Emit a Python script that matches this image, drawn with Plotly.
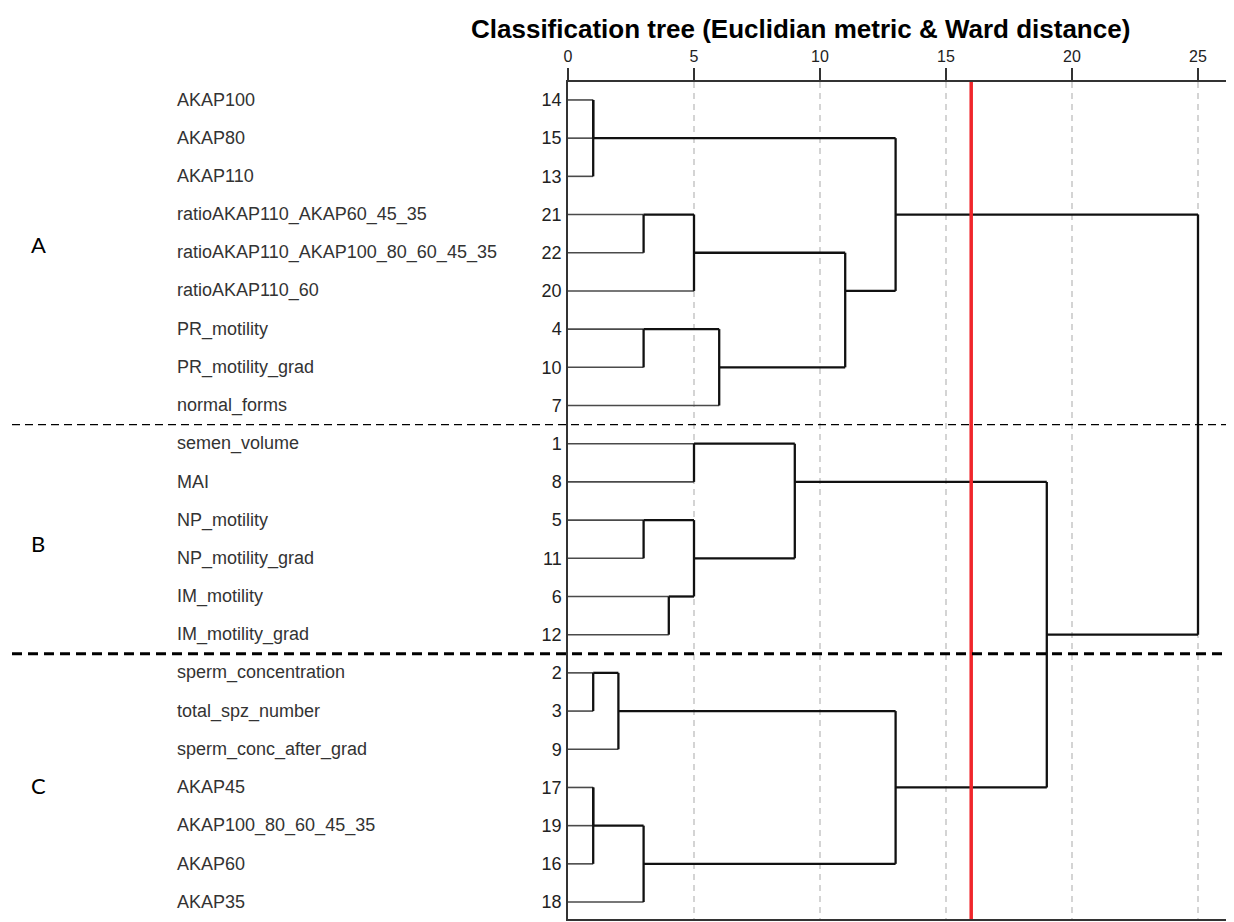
import plotly.graph_objects as go

# leaves, top to bottom
leaf_names = ["AKAP100", "AKAP80", "AKAP110", "ratioAKAP110_AKAP60_45_35",
              "ratioAKAP110_AKAP100_80_60_45_35", "ratioAKAP110_60", "PR_motility",
              "PR_motility_grad", "normal_forms", "semen_volume", "MAI", "NP_motility",
              "NP_motility_grad", "IM_motility", "IM_motility_grad", "sperm_concentration",
              "total_spz_number", "sperm_conc_after_grad", "AKAP45", "AKAP100_80_60_45_35",
              "AKAP60", "AKAP35"]
leaf_ids = [14, 15, 13, 21, 22, 20, 4, 10, 7, 1, 8, 5, 11, 6, 12, 2, 3, 9, 17, 19, 16, 18]

# merges (ints = case numbers, "cN" = cluster made by merge N) and rescaled distances
merge_left = [14, "c0", 21, "c2", 4, "c4", "c3", "c1", 1, 5, 6, "c9", "c8",
              2, "c13", 17, "c15", "c16", "c14", "c12", "c7"]
merge_right = [15, 13, 22, 20, 10, 7, "c5", "c6", 8, 11, 12, "c10", "c11",
               3, 9, 19, 16, 18, "c17", "c18", "c19"]
merge_height = [1, 1, 3, 5, 3, 6, 11, 13, 5, 3, 4, 5, 9, 1, 2, 1, 1, 3, 13, 19, 25]

cut_height = 16
groups = ["A", "B", "C"]
group_rows = [3.79, 11.62, 17.94]
group_breaks = [8.5, 14.5]

# pixel layout (page pixels; the html body adds an 8px margin)
OFF = 8
W, H = 1234 - OFF, 922 - OFF
L, R, T, B = 568 - OFF, 1231 - OFF, 82 - OFF, 921 - OFF
pw, ph = R - L, B - T

pos = {leaf: i for i, leaf in enumerate(leaf_ids)}
hgt = {leaf: 0 for leaf in leaf_ids}
lx, ly, ix, iy = [], [], [], []
for k, (a, b, h) in enumerate(zip(merge_left, merge_right, merge_height)):
    for c in (a, b):
        if isinstance(c, int):
            lx += [hgt[c], h, None]; ly += [pos[c], pos[c], None]
        else:
            ix += [hgt[c], h, None]; iy += [pos[c], pos[c], None]
    ix += [h, h, None]; iy += [pos[a], pos[b], None]
    pos["c%d" % k] = (pos[a] + pos[b]) // 2
    hgt["c%d" % k] = h

fig = go.Figure()
fig.add_trace(go.Scatter(x=lx, y=ly, mode="lines", line=dict(color="#4a4a4a", width=1.6),
                         hoverinfo="skip", showlegend=False))
fig.add_trace(go.Scatter(x=ix, y=iy, mode="lines", line=dict(color="#111111", width=2.3),
                         hoverinfo="skip", showlegend=False))

fig.add_vline(x=cut_height, line=dict(color="#f0262b", width=3.5))

for yb, w, d in zip(group_breaks, [1.3, 3], ["8px,5px", "10px,6px"]):
    fig.add_shape(type="line", xref="paper", yref="y", x0=(12 - OFF - L) / pw, x1=1,
                  y0=yb, y1=yb, line=dict(color="black", width=w, dash=d))

for i, name in enumerate(leaf_names):
    fig.add_annotation(x=(175 - OFF - L) / pw, xref="paper", y=i, yref="y", text=name,
                       showarrow=False, xanchor="left",
                       font=dict(family="Liberation Sans", size=18, color="#333"))

for g, gy in zip(groups, group_rows):
    fig.add_annotation(x=(38 - OFF - L) / pw, xref="paper", y=gy, yref="y", text=g,
                       showarrow=False, xanchor="center",
                       font=dict(family="Lato", size=22, color="black"))

fig.add_annotation(x=(800 - OFF - L) / pw, xref="paper", y=(B - (29 - OFF)) / ph, yref="paper",
                   text="<b>Classification tree (Euclidian metric & Ward distance)</b>",
                   showarrow=False, xanchor="center", yanchor="middle",
                   font=dict(family="Liberation Sans", size=26, color="black"))

rows_top = -(100 - 82) / 38.29
rows_bot = 21 + (921 - 904) / 38.29
fig.update_layout(
    width=W, height=H, margin=dict(l=L, r=W - R, t=T, b=H - B),
    paper_bgcolor="white", plot_bgcolor="white",
    xaxis=dict(side="top", range=[0, (R - L) / 25.2], tickvals=[0, 5, 10, 15, 20, 25],
               ticks="outside", ticklen=12, tickwidth=1.5, tickcolor="#333",
               showline=True, mirror=True, linecolor="#333", linewidth=1.5,
               showgrid=True, gridcolor="#d4d4d4", griddash="6px,5px", gridwidth=1.5,
               zeroline=False, tickfont=dict(family="Liberation Sans", size=16, color="#222")),
    yaxis=dict(range=[rows_bot, rows_top], tickvals=list(range(len(leaf_ids))),
               ticktext=[str(v) for v in leaf_ids], ticks="", ticklabelstandoff=1,
               showline=True, mirror=True, linecolor="#333", linewidth=1.5,
               showgrid=False, zeroline=False,
               tickfont=dict(family="Liberation Sans", size=18, color="#222")),
)

fig.write_html("out.html")
